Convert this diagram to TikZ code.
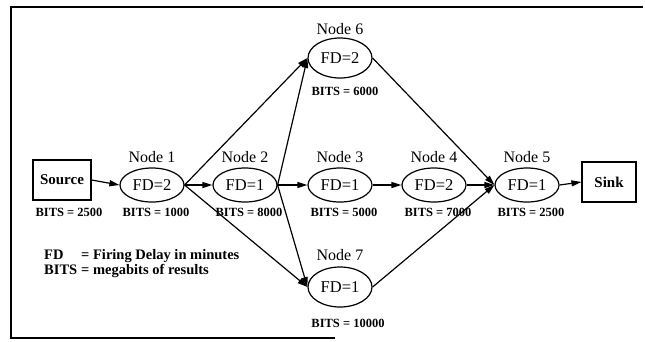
\documentclass[tikz,border=0pt]{standalone}
\usepackage{fontspec}
\setmainfont{Liberation Serif}
\usetikzlibrary{shapes.geometric,arrows.meta}
\tikzset{
  fdnode/.style={draw, ellipse, line width=1.2pt, minimum width=64pt, minimum height=34pt, inner sep=0pt, font=\fontsize{16.5}{16.5}\selectfont},
  endbox/.style={draw, rectangle, line width=1.2pt, inner sep=0pt, font=\bfseries\fontsize{15}{15}\selectfont},
  nodetitle/.style={font=\fontsize{16}{16}\selectfont},
  bitslabel/.style={font=\bfseries\fontsize{12.5}{12.5}\selectfont},
  legend/.style={font=\bfseries\fontsize{14.5}{15}\selectfont, inner sep=0pt},
  flow/.style={line width=1.2pt, -{Triangle[length=10pt,width=6pt]}},
}
\begin{document}
\begin{tikzpicture}[x=1pt,y=-1pt]
    \useasboundingbox (0,0) rectangle (645,341);
    % Frame
    \draw[line width=1.6pt] (643,7) -- (11,7) -- (11,338) -- (335,338);
    % Source and sink
    \node[endbox, minimum width=58pt, minimum height=40pt] (src) at (62,180) {Source};
    \node[bitslabel] (bsrc) at (69,212) {BITS = 2500};
    \node[endbox, minimum width=54pt, minimum height=40pt] (sink) at (609,182) {Sink};
    % Middle row of nodes
    \foreach \n/\x/\fd/\bits in {1/152/2/1000, 2/245/1/8000, 3/340/1/5000, 4/434/2/7000, 5/527/1/2500}
    {
        \node[fdnode] (n\n) at (\x,185) {FD=\fd};
        \node[nodetitle] (t\n) at (\x,157) {Node \n};
        \node[bitslabel] (b\n) at (\x+4,212) {BITS = \bits};
    }
    % Upper and lower nodes
    \node[fdnode, minimum height=40pt] (n6) at (340,58) {FD=2};
    \node[nodetitle] (t6) at (340,29) {Node 6};
    \node[bitslabel] (b6) at (345,91) {BITS = 6000};
    \node[fdnode, minimum height=40pt] (n7) at (340,287) {FD=1};
    \node[nodetitle] (t7) at (340,255) {Node 7};
    \node[bitslabel] (b7) at (348,323) {BITS = 10000};
    % Connectors
    \foreach \a/\b in {src/n1, n1/n2, n2/n3, n3/n4, n4/n5, n5/sink, n1/n6, n1/n7, n2/n6, n2/n7, n6/n5, n7/n5}
    {
        \draw[flow] (\a.east) -- (\b.west);
    }
    % Legend
    \node[legend, anchor=west] (key) at (44,264) {%
        \begin{tabular}{@{}l@{\hspace{4pt}}l@{}}
        FD & = Firing Delay in minutes\\
        BITS & = megabits of results
        \end{tabular}};
\end{tikzpicture}
\end{document}
